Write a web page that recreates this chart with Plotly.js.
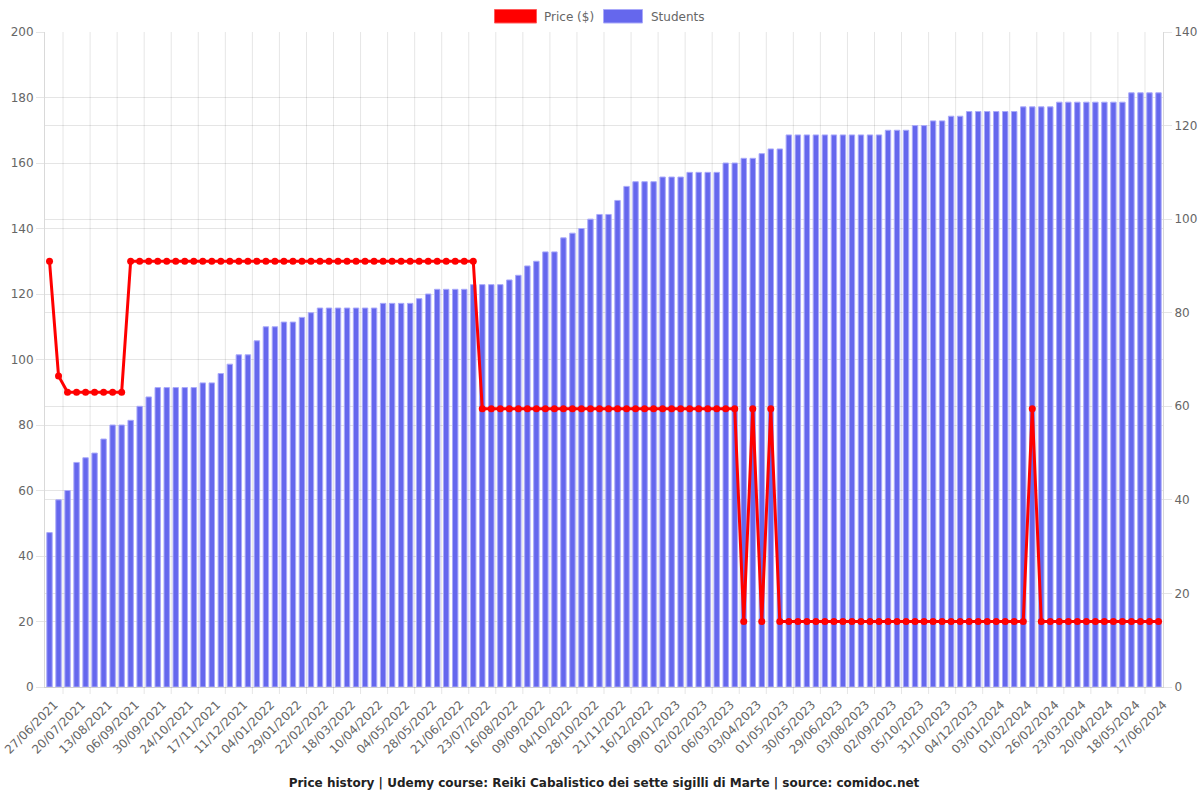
<!DOCTYPE html>
<html>
<head>
<meta charset="utf-8">
<script src="https://cdn.plot.ly/plotly-3.0.1.min.js"></script>
<style>
html,body{margin:0;padding:0;background:#fff;}
#chart{width:1200px;height:800px;}
</style>
</head>
<body>
<div id="chart"></div>
<script>
// ---- Data ----
const dates = [
  "27/06/2021","05/07/2021","12/07/2021","20/07/2021","28/07/2021","05/08/2021",
  "13/08/2021","21/08/2021","29/08/2021","06/09/2021","14/09/2021","22/09/2021",
  "30/09/2021","08/10/2021","16/10/2021","24/10/2021","01/11/2021","09/11/2021",
  "17/11/2021","25/11/2021","03/12/2021","11/12/2021","19/12/2021","27/12/2021",
  "04/01/2022","12/01/2022","20/01/2022","29/01/2022","06/02/2022","14/02/2022",
  "22/02/2022","02/03/2022","10/03/2022","18/03/2022","26/03/2022","02/04/2022",
  "10/04/2022","18/04/2022","26/04/2022","04/05/2022","12/05/2022","20/05/2022",
  "28/05/2022","05/06/2022","13/06/2022","21/06/2022","01/07/2022","12/07/2022",
  "23/07/2022","31/07/2022","08/08/2022","16/08/2022","24/08/2022","01/09/2022",
  "09/09/2022","17/09/2022","26/09/2022","04/10/2022","12/10/2022","20/10/2022",
  "28/10/2022","05/11/2022","13/11/2022","21/11/2022","29/11/2022","08/12/2022",
  "16/12/2022","24/12/2022","01/01/2023","09/01/2023","17/01/2023","25/01/2023",
  "02/02/2023","13/02/2023","23/02/2023","06/03/2023","15/03/2023","25/03/2023",
  "03/04/2023","12/04/2023","21/04/2023","01/05/2023","11/05/2023","20/05/2023",
  "30/05/2023","09/06/2023","19/06/2023","29/06/2023","11/07/2023","22/07/2023",
  "03/08/2023","13/08/2023","23/08/2023","02/09/2023","13/09/2023","24/09/2023",
  "05/10/2023","14/10/2023","22/10/2023","31/10/2023","11/11/2023","23/11/2023",
  "04/12/2023","14/12/2023","24/12/2023","03/01/2024","13/01/2024","23/01/2024",
  "01/02/2024","09/02/2024","17/02/2024","26/02/2024","05/03/2024","14/03/2024",
  "23/03/2024","01/04/2024","11/04/2024","20/04/2024","29/04/2024","09/05/2024",
  "18/05/2024","28/05/2024","07/06/2024","17/06/2024"
];

const tickLabels = [
  "27/06/2021","20/07/2021","13/08/2021","06/09/2021","30/09/2021","24/10/2021",
  "17/11/2021","11/12/2021","04/01/2022","29/01/2022","22/02/2022","18/03/2022",
  "10/04/2022","04/05/2022","28/05/2022","21/06/2022","23/07/2022","16/08/2022",
  "09/09/2022","04/10/2022","28/10/2022","21/11/2022","16/12/2022","09/01/2023",
  "02/02/2023","06/03/2023","03/04/2023","01/05/2023","30/05/2023","29/06/2023",
  "03/08/2023","02/09/2023","05/10/2023","31/10/2023","04/12/2023","03/01/2024",
  "01/02/2024","26/02/2024","23/03/2024","20/04/2024","18/05/2024","17/06/2024"
];

const students = [
  33,40,42,48,49,50,53,56,56,57,60,62,
  64,64,64,64,64,65,65,67,69,71,71,74,
  77,77,78,78,79,80,81,81,81,81,81,81,
  81,82,82,82,82,83,84,85,85,85,85,86,
  86,86,86,87,88,90,91,93,93,96,97,98,
  100,101,101,104,107,108,108,108,109,109,109,110,
  110,110,110,112,112,113,113,114,115,115,118,118,
  118,118,118,118,118,118,118,118,118,119,119,119,
  120,120,121,121,122,122,123,123,123,123,123,123,
  124,124,124,124,125,125,125,125,125,125,125,125,
  127,127,127,127
];

const price = [
  130,95,90,90,90,90,90,90,90,130,130,130,
  130,130,130,130,130,130,130,130,130,130,130,130,
  130,130,130,130,130,130,130,130,130,130,130,130,
  130,130,130,130,130,130,130,130,130,130,130,130,
  85,85,85,85,85,85,85,85,85,85,85,85,
  85,85,85,85,85,85,85,85,85,85,85,85,
  85,85,85,85,85,20,85,20,85,20,20,20,
  20,20,20,20,20,20,20,20,20,20,20,20,
  20,20,20,20,20,20,20,20,20,20,20,20,
  20,85,20,20,20,20,20,20,20,20,20,20,
  20,20,20,20
];

const titleText = "Price history | Udemy course: Reiki Cabalistico dei sette sigilli di Marte | source: comidoc.net";

// ---- Layout helpers ----
const W = 1200, H = 800;
const M = {l: 45, r: 37, t: 32, b: 113};
const pw = W - M.l - M.r, ph = H - M.t - M.b;
const px2x = p => (p - M.l) / pw;
const px2y = p => (H - M.b - p) / ph;

const FONT = "DejaVu Sans, Verdana, sans-serif";
const GRID = "rgba(0,0,0,0.1)";
const BAR = "#6567ED";
const RED = "#ff0000";

const shapes = [];
const n = dates.length;
for (let g = 1.5; g < n - 1; g += 3) {
  shapes.push({type: "line", xref: "x", yref: "paper", x0: g, x1: g, y0: 0, y1: 1,
               line: {color: GRID, width: 1}, layer: "below"});
  shapes.push({type: "line", xref: "x", yref: "paper", x0: g, x1: g, y0: 0, y1: -7 / ph,
               line: {color: GRID, width: 1}, layer: "below"});
}
// legend boxes
shapes.push({type: "rect", xref: "paper", yref: "paper",
  x0: px2x(494.5), x1: px2x(536.5), y0: px2y(23), y1: px2y(9.5),
  fillcolor: RED, line: {color: "rgba(255,90,90,1)", width: 1}});
shapes.push({type: "rect", xref: "paper", yref: "paper",
  x0: px2x(603.5), x1: px2x(642.5), y0: px2y(23), y1: px2y(9.5),
  fillcolor: BAR, line: {color: "rgba(170,170,250,1)", width: 1}});

const annotations = [
  {text: "Price ($)", xref: "paper", yref: "paper", x: px2x(542), y: px2y(16.5),
   xanchor: "left", yanchor: "middle", showarrow: false,
   font: {family: FONT, size: 12, color: "#666"}},
  {text: "Students", xref: "paper", yref: "paper", x: px2x(649), y: px2y(16.5),
   xanchor: "left", yanchor: "middle", showarrow: false,
   font: {family: FONT, size: 12, color: "#666"}}
];

const traces = [
  {
    type: "bar", name: "Students", x: dates, y: students,
    xaxis: "x", yaxis: "y",
    marker: {color: BAR, line: {color: "rgba(170,170,250,1)", width: 1}},
    hoverinfo: "x+y"
  },
  {
    type: "scatter", mode: "lines+markers", name: "Price ($)", x: dates, y: price,
    xaxis: "x", yaxis: "y2",
    line: {color: RED, width: 3},
    marker: {color: RED, size: 7},
    hoverinfo: "x+y"
  }
];

const layout = {
  width: W, height: H,
  margin: M,
  paper_bgcolor: "#fff", plot_bgcolor: "#fff",
  showlegend: false,
  bargap: 0.4,
  font: {family: FONT, size: 12, color: "#666"},
  title: {
    text: titleText,
    x: 0.5, xanchor: "center", xref: "paper",
    y: 1 - 783 / H, yanchor: "middle", yref: "container",
    font: {family: FONT, size: 12, color: "#222", weight: "bold"}
  },
  xaxis: {
    type: "category",
    categoryorder: "array", categoryarray: dates,
    range: [-0.5, n - 0.5],
    tickmode: "array", tickvals: tickLabels, ticktext: tickLabels,
    tickangle: -45,
    ticklabelshift: 5, ticklabelstandoff: 5,
    ticks: "", showgrid: false, zeroline: false,
    showline: true, linecolor: "rgba(0,0,0,0.18)", linewidth: 1,
    tickfont: {family: FONT, size: 12, color: "#666"},
    fixedrange: true
  },
  yaxis: {
    side: "right",
    range: [0, 140], tickmode: "linear", tick0: 0, dtick: 20,
    showgrid: true, gridcolor: GRID, zeroline: false,
    showline: true, linecolor: "rgba(0,0,0,0.15)",
    ticks: "outside", ticklen: 8, tickcolor: GRID,
    tickfont: {family: FONT, size: 12, color: "#666"},
    fixedrange: true
  },
  yaxis2: {
    overlaying: "y", side: "left", anchor: "x",
    range: [0, 200], tickmode: "linear", tick0: 0, dtick: 20,
    showgrid: true, gridcolor: GRID, zeroline: false,
    showline: true, linecolor: "rgba(0,0,0,0.15)",
    ticks: "outside", ticklen: 8, tickcolor: GRID,
    tickfont: {family: FONT, size: 12, color: "#666"},
    fixedrange: true
  },
  shapes: shapes,
  annotations: annotations
};

Plotly.newPlot("chart", traces, layout, {displayModeBar: false, staticPlot: true});
</script>
</body>
</html>
